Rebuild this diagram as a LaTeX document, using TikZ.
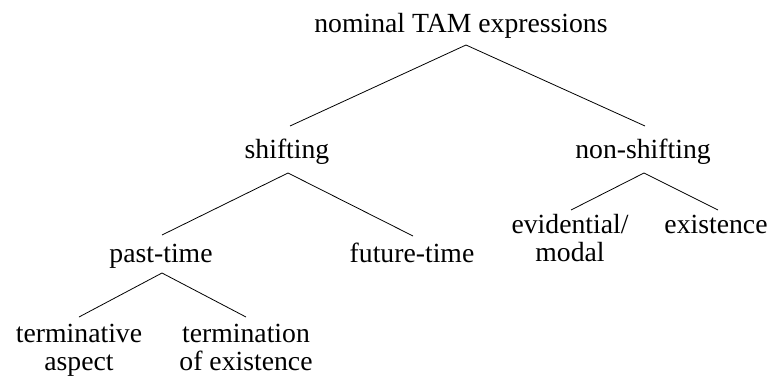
\documentclass[tikz,border=0pt]{standalone}
\usepackage{fontspec}
\setmainfont{Liberation Serif}
\begin{document}
\begin{tikzpicture}[x=1pt,y=-1pt,
  lbl/.style={inner sep=0pt,anchor=base,font=\fontsize{27.7}{28}\selectfont},
  edge/.style={draw=black,line width=0.8pt}]
\useasboundingbox (0,0) rectangle (773,375);
% nodes
\node[lbl] (root) at (461,32) {nominal TAM expressions};
\node[lbl] (shift) at (287,158) {shifting};
\node[lbl] (nonshift) at (643,158) {non-shifting};
\node[lbl] (past) at (161,262) {past-time};
\node[lbl] (future) at (412,262) {future-time};
\node[lbl] (evid) at (570,233) {\begin{tabular}[t]{@{}c@{}}evidential/\\modal\end{tabular}};
\node[lbl] (exist) at (716,233) {existence};
\node[lbl] (termasp) at (79,342) {\begin{tabular}[t]{@{}c@{}}terminative\\aspect\end{tabular}};
\node[lbl] (termex) at (246,342) {\begin{tabular}[t]{@{}c@{}}termination\\of existence\end{tabular}};
% connector end points
\coordinate (rootJ) at (466,45);
\coordinate (shiftT) at (290,126);
\coordinate (nonshiftT) at (645,126);
\coordinate (shiftJ) at (288,173);
\coordinate (pastT) at (162,235);
\coordinate (futureT) at (413,236);
\coordinate (pastJ) at (162,273);
\coordinate (termaspT) at (79,317);
\coordinate (termexT) at (246,317);
\coordinate (nonshiftJ) at (644,173);
\coordinate (evidT) at (571,210);
\coordinate (existT) at (718,210);
% connectors
\draw[edge] (shiftT) -- (rootJ) -- (nonshiftT);
\draw[edge] (pastT) -- (shiftJ) -- (futureT);
\draw[edge] (termaspT) -- (pastJ) -- (termexT);
\draw[edge] (evidT) -- (nonshiftJ) -- (existT);
\end{tikzpicture}
\end{document}
